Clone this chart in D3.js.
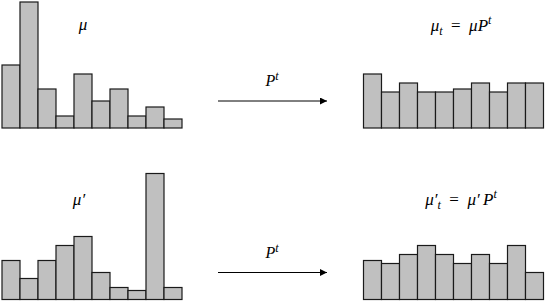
<!DOCTYPE html>
<html><head><meta charset="utf-8">
<script src="https://cdn.jsdelivr.net/npm/d3@7"></script>
<style>html,body{margin:0;padding:0;background:#fff;}svg{display:block;}</style>
</head><body>
<script>
// Data (relative bar heights)
const bins = d3.range(1, 11);
const mu      = [21, 42, 13, 4, 18, 9, 13, 4, 7, 3];
const muT     = [18, 12, 15, 12, 12, 13, 15, 12, 15, 15];
const muPrime = [13, 7, 13, 18, 21, 9, 4, 3, 42, 4];
const muPrimeT= [13, 12, 15, 18, 15, 12, 15, 12, 18, 9];

const W = 546, H = 302;
const svg = d3.select("body").append("svg").attr("width", W).attr("height", H);

const y = d3.scaleLinear().domain([0, 42]).range([0, 126]);

function panel(data, x0, base) {
  const x = d3.scaleBand().domain(bins).range([x0, x0 + 180]).padding(0);
  svg.append("g").selectAll("rect").data(data).join("rect")
    .attr("x", (d, i) => x(bins[i]))
    .attr("y", d => base - y(d))
    .attr("width", x.bandwidth())
    .attr("height", d => y(d))
    .attr("fill", "#c0c0c0")
    .attr("stroke", "#1a1a1a")
    .attr("stroke-width", 1.2);
}
panel(mu, 2, 128);
panel(muT, 363.5, 128);
panel(muPrime, 2, 299.5);
panel(muPrimeT, 363.5, 299.5);

svg.append("defs").append("marker")
  .attr("id", "ah").attr("viewBox", "0 0 10 10").attr("refX", 10).attr("refY", 5)
  .attr("markerWidth", 10).attr("markerHeight", 7).attr("markerUnits", "userSpaceOnUse")
  .attr("orient", "auto")
  .append("path").attr("d", "M0,0 L10,5 L0,10 Z").attr("fill", "#000");

const F = "Liberation Serif, serif";

function arrow(yy) {
  svg.append("line").attr("x1", 218).attr("x2", 327).attr("y1", yy).attr("y2", yy)
    .attr("stroke", "#000").attr("stroke-width", 1).attr("marker-end", "url(#ah)");
  const t = svg.append("text").attr("x", 272).attr("y", yy - 15).attr("text-anchor", "middle")
    .attr("font-family", F).attr("font-size", 16);
  t.append("tspan").attr("font-style", "italic").text("P");
  t.append("tspan").attr("font-style", "italic").attr("font-size", 12).attr("dy", -6).text("t");
}
arrow(101);
arrow(272.5);

// μ
svg.append("text").attr("x", 83).attr("y", 30).attr("text-anchor", "middle")
  .attr("font-family", F).attr("font-style", "italic").attr("font-size", 17).text("μ");
// μ'
svg.append("text").attr("x", 79).attr("y", 205).attr("text-anchor", "middle")
  .attr("font-family", F).attr("font-style", "italic").attr("font-size", 17).text("μ′");

function eqLabel(yy, prime) {
  const t = svg.append("text").attr("x", 461).attr("y", yy).attr("text-anchor", "middle")
    .attr("font-family", F).attr("font-size", 17);
  t.append("tspan").attr("font-style", "italic").text(prime ? "μ′" : "μ");
  t.append("tspan").attr("font-style", "italic").attr("font-size", 12).attr("dy", 4).text("t");
  t.append("tspan").attr("dy", -4).text("\u2002=\u2002");
  t.append("tspan").attr("font-style", "italic").text(prime ? "μ′\u2009P" : "μP");
  t.append("tspan").attr("font-style", "italic").attr("font-size", 12).attr("dy", -7).text("t");
}
eqLabel(31, false);
eqLabel(205, true);
</script>
</body></html>
